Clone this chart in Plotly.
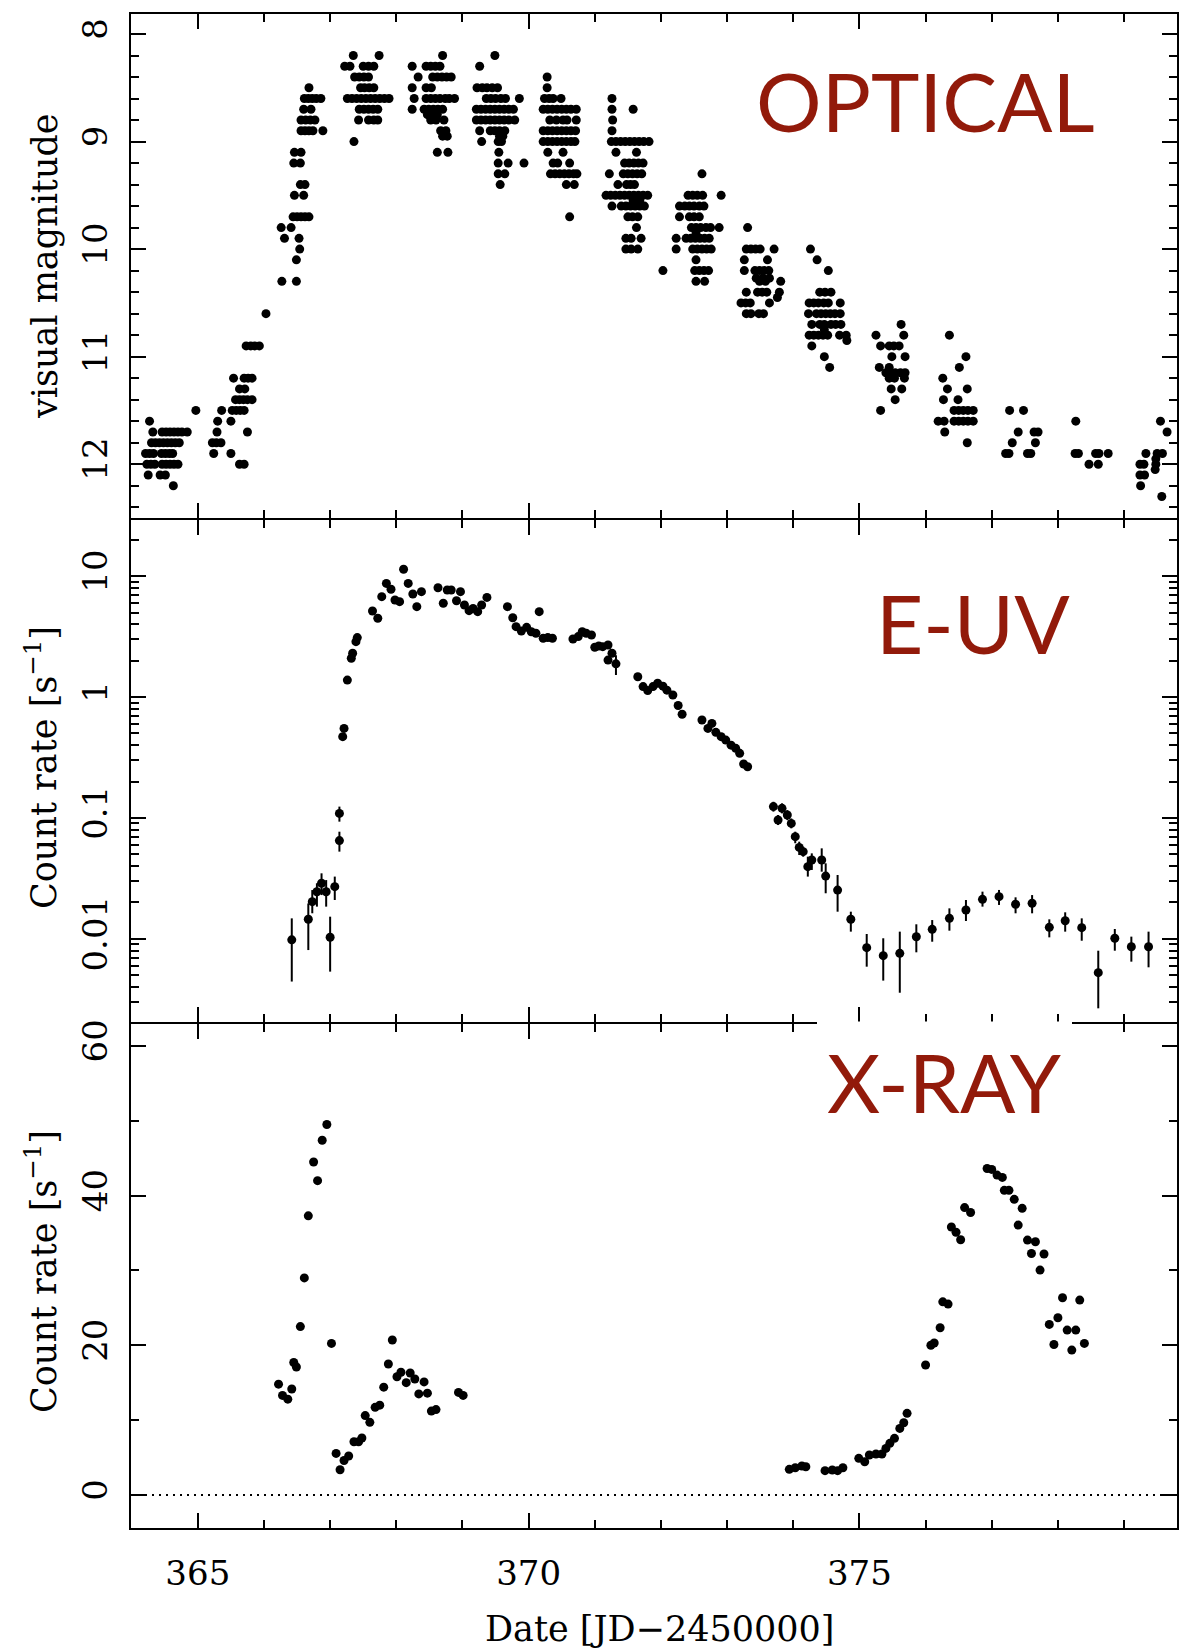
import plotly.graph_objects as go

# ---------------- OPTICAL: visual magnitude estimates ----------------
opt_day = [
    364.97,
    364.27,
    364.32, 364.46, 364.52, 364.58, 364.64, 364.70, 364.76, 364.84,
    364.30, 364.36, 364.42, 364.48, 364.54, 364.60, 364.66, 364.72,
    364.21, 364.27, 364.33, 364.45, 364.51, 364.57, 364.62,
    364.23, 364.29, 364.35, 364.46, 364.52, 364.58, 364.64, 364.70,
    364.25, 364.43, 364.51,
    364.63,
    366.03,
    365.73, 365.80, 365.86, 365.93,
    365.54, 365.70, 365.76, 365.82,
    365.63, 365.71,
    365.57, 365.63, 365.69, 365.75, 365.82,
    365.36, 365.52, 365.58, 365.64, 365.70,
    365.30, 365.50,
    365.29, 365.75,
    365.22, 365.28, 365.35,
    365.24, 365.50,
    365.63, 365.70,
    366.27, 366.49,
    366.49,
    366.54,
    366.31, 366.53,
    366.26, 366.41,
    366.44, 366.50, 366.56, 366.62, 366.68,
    366.46, 366.60,
    366.55, 366.62,
    366.45, 366.55,
    366.46, 366.56,
    366.56, 366.62, 366.68, 366.74, 366.89,
    366.56, 366.63, 366.70, 366.77,
    366.60, 366.71,
    366.61, 366.67, 366.73, 366.79, 366.86,
    366.68,
    367.35, 367.74,
    367.22, 367.30, 367.50, 367.58, 367.66,
    367.37, 367.44, 367.51, 367.58,
    367.46, 367.52, 367.59, 367.66,
    367.26, 367.33, 367.40, 367.47, 367.54, 367.61, 367.68, 367.75, 367.82, 367.89,
    367.44, 367.51, 367.58, 367.65, 367.72,
    367.43, 367.58, 367.66, 367.72,
    367.36,
    368.70,
    368.24, 368.45, 368.52, 368.59, 368.66,
    368.33, 368.55, 368.62, 368.69, 368.76, 368.83,
    368.24, 368.45, 368.53,
    368.27, 368.45, 368.52, 368.59, 368.66, 368.74, 368.80, 368.88,
    368.24, 368.42, 368.49, 368.56, 368.63, 368.70,
    368.47, 368.55, 368.62,
    368.52, 368.60, 368.72,
    368.67, 368.75,
    368.70, 368.77,
    368.62, 368.78,
    369.49,
    369.26,
    369.22, 369.30, 369.37, 369.45, 369.53,
    369.36, 369.43, 369.50, 369.58, 369.65, 369.86,
    369.21, 369.28, 369.35, 369.42, 369.49, 369.56, 369.63, 369.70, 369.77,
    369.21, 369.28, 369.35, 369.42, 369.49, 369.56, 369.63, 369.70, 369.79,
    369.26, 369.42, 369.49, 369.56, 369.64,
    369.56, 369.61,
    369.29, 369.54, 369.59,
    369.55,
    369.54, 369.69, 369.93,
    369.54, 369.64,
    369.57,
    370.28,
    370.28,
    370.24, 370.31, 370.37, 370.49,
    370.22, 370.29, 370.36, 370.43, 370.50, 370.57, 370.64, 370.72,
    370.32, 370.42, 370.52, 370.58, 370.72,
    370.22, 370.29, 370.36, 370.43, 370.50, 370.57, 370.64, 370.71,
    370.22, 370.29, 370.36, 370.43, 370.50, 370.57, 370.64, 370.70,
    370.29, 370.52,
    370.37, 370.44, 370.62,
    370.33, 370.40, 370.47, 370.54, 370.61, 370.68, 370.73,
    370.57, 370.69,
    370.62,
    371.26,
    371.26, 371.58,
    371.27,
    371.26,
    371.25, 371.32, 371.39, 371.46, 371.53, 371.60, 371.67, 371.74, 371.82,
    371.32, 371.63,
    371.45, 371.52, 371.59, 371.66, 371.73,
    371.22, 371.43, 371.50, 371.57, 371.64, 371.71,
    371.35, 371.48, 371.54, 371.60,
    371.17, 371.24, 371.31, 371.38, 371.45, 371.52, 371.59, 371.66, 371.73, 371.80,
    371.58, 371.68,
    371.26, 371.40, 371.47, 371.54, 371.61, 371.68, 371.75,
    371.50, 371.57, 371.65,
    371.63,
    371.47, 371.55, 371.70,
    371.47, 371.55, 371.65,
    372.62,
    372.41, 372.48, 372.55, 372.63, 372.91,
    372.28, 372.36, 372.43, 372.50, 372.58, 372.65,
    372.28, 372.43, 372.50, 372.58,
    372.46, 372.53, 372.60, 372.68, 372.75, 372.88,
    372.53,
    372.23, 372.38, 372.45, 372.52, 372.59, 372.66, 372.73,
    372.23, 372.48, 372.55, 372.62, 372.69, 372.76,
    372.53,
    372.03, 372.51, 372.58, 372.65, 372.72,
    372.53, 372.66,
    373.31,
    373.29, 373.36, 373.43, 373.50, 373.71,
    373.26, 373.61,
    373.26, 373.42, 373.49, 373.56, 373.63,
    373.44, 373.54, 373.64,
    373.49, 373.58, 373.81,
    373.29, 373.46, 373.53, 373.60, 373.79,
    373.76,
    373.21, 373.28, 373.35, 373.64,
    373.29, 373.36, 373.48, 373.55,
    374.26,
    374.36,
    374.53,
    374.40, 374.48, 374.57,
    374.24, 374.31, 374.38, 374.46, 374.53, 374.71,
    374.23, 374.35, 374.42, 374.49, 374.56, 374.63, 374.71,
    374.28, 374.40, 374.47, 374.57, 374.64, 374.72,
    374.47,
    374.24, 374.31, 374.38, 374.45, 374.52, 374.70, 374.80,
    374.81,
    374.28,
    374.47,
    374.55,
    375.63,
    375.25, 375.67,
    375.32, 375.45, 375.52, 375.60,
    375.49, 375.69,
    375.30, 375.45,
    375.40, 375.47, 375.54, 375.62, 375.69,
    375.45, 375.53, 375.68,
    375.48, 375.64,
    375.54,
    375.32,
    376.36,
    376.61,
    376.51,
    376.26,
    376.33, 376.63,
    376.27, 376.49,
    376.43, 376.50, 376.57, 376.64, 376.72,
    376.19, 376.28, 376.43, 376.50, 376.57, 376.64, 376.72,
    376.29,
    376.63,
    377.27, 377.48,
    377.40, 377.64, 377.70,
    377.31, 377.66,
    377.21, 377.26, 377.54, 377.59,
    378.27,
    378.26, 378.31, 378.57, 378.62, 378.76,
    378.47, 378.61,
    379.55,
    379.65,
    379.33, 379.50, 379.58,
    379.48,
    379.24, 379.30, 379.48,
    379.47,
    379.24, 379.31,
    379.25,
    379.57,
]
opt_mag = [
    11.5,
    11.6,
    11.7, 11.7, 11.7, 11.7, 11.7, 11.7, 11.7, 11.7,
    11.8, 11.8, 11.8, 11.8, 11.8, 11.8, 11.8, 11.8,
    11.9, 11.9, 11.9, 11.9, 11.9, 11.9, 11.9,
    12.0, 12.0, 12.0, 12.0, 12.0, 12.0, 12.0, 12.0,
    12.1, 12.1, 12.1,
    12.2,
    10.6,
    10.9, 10.9, 10.9, 10.9,
    11.2, 11.2, 11.2, 11.2,
    11.3, 11.3,
    11.4, 11.4, 11.4, 11.4, 11.4,
    11.5, 11.5, 11.5, 11.5, 11.5,
    11.6, 11.6,
    11.7, 11.7,
    11.8, 11.8, 11.8,
    11.9, 11.9,
    12.0, 12.0,
    10.3, 10.3,
    10.1,
    10.0,
    9.9, 9.9,
    9.8, 9.8,
    9.7, 9.7, 9.7, 9.7, 9.7,
    9.5, 9.5,
    9.4, 9.4,
    9.2, 9.2,
    9.1, 9.1,
    8.9, 8.9, 8.9, 8.9, 8.9,
    8.8, 8.8, 8.8, 8.8,
    8.7, 8.7,
    8.6, 8.6, 8.6, 8.6, 8.6,
    8.5,
    8.2, 8.2,
    8.3, 8.3, 8.3, 8.3, 8.3,
    8.4, 8.4, 8.4, 8.4,
    8.5, 8.5, 8.5, 8.5,
    8.6, 8.6, 8.6, 8.6, 8.6, 8.6, 8.6, 8.6, 8.6, 8.6,
    8.7, 8.7, 8.7, 8.7, 8.7,
    8.8, 8.8, 8.8, 8.8,
    9.0,
    8.2,
    8.3, 8.3, 8.3, 8.3, 8.3,
    8.4, 8.4, 8.4, 8.4, 8.4, 8.4,
    8.5, 8.5, 8.5,
    8.6, 8.6, 8.6, 8.6, 8.6, 8.6, 8.6, 8.6,
    8.7, 8.7, 8.7, 8.7, 8.7, 8.7,
    8.75, 8.75, 8.75,
    8.8, 8.8, 8.8,
    8.9, 8.9,
    8.95, 8.95,
    9.1, 9.1,
    8.2,
    8.3,
    8.5, 8.5, 8.5, 8.5, 8.5,
    8.6, 8.6, 8.6, 8.6, 8.6, 8.6,
    8.7, 8.7, 8.7, 8.7, 8.7, 8.7, 8.7, 8.7, 8.7,
    8.8, 8.8, 8.8, 8.8, 8.8, 8.8, 8.8, 8.8, 8.8,
    8.9, 8.9, 8.9, 8.9, 8.9,
    8.95, 8.95,
    9.0, 9.0, 9.0,
    9.1,
    9.2, 9.2, 9.2,
    9.3, 9.3,
    9.4,
    8.4,
    8.5,
    8.6, 8.6, 8.6, 8.6,
    8.7, 8.7, 8.7, 8.7, 8.7, 8.7, 8.7, 8.7,
    8.8, 8.8, 8.8, 8.8, 8.8,
    8.9, 8.9, 8.9, 8.9, 8.9, 8.9, 8.9, 8.9,
    9.0, 9.0, 9.0, 9.0, 9.0, 9.0, 9.0, 9.0,
    9.1, 9.1,
    9.2, 9.2, 9.2,
    9.3, 9.3, 9.3, 9.3, 9.3, 9.3, 9.3,
    9.4, 9.4,
    9.7,
    8.6,
    8.7, 8.7,
    8.8,
    8.9,
    9.0, 9.0, 9.0, 9.0, 9.0, 9.0, 9.0, 9.0, 9.0,
    9.1, 9.1,
    9.2, 9.2, 9.2, 9.2, 9.2,
    9.3, 9.3, 9.3, 9.3, 9.3, 9.3,
    9.4, 9.4, 9.4, 9.4,
    9.5, 9.5, 9.5, 9.5, 9.5, 9.5, 9.5, 9.5, 9.5, 9.5,
    9.55, 9.55,
    9.6, 9.6, 9.6, 9.6, 9.6, 9.6, 9.6,
    9.7, 9.7, 9.7,
    9.8,
    9.9, 9.9, 9.9,
    10.0, 10.0, 10.0,
    9.3,
    9.5, 9.5, 9.5, 9.5, 9.5,
    9.6, 9.6, 9.6, 9.6, 9.6, 9.6,
    9.7, 9.7, 9.7, 9.7,
    9.8, 9.8, 9.8, 9.8, 9.8, 9.8,
    9.85,
    9.9, 9.9, 9.9, 9.9, 9.9, 9.9, 9.9,
    10.0, 10.0, 10.0, 10.0, 10.0, 10.0,
    10.1,
    10.2, 10.2, 10.2, 10.2, 10.2,
    10.3, 10.3,
    9.8,
    10.0, 10.0, 10.0, 10.0, 10.0,
    10.1, 10.1,
    10.2, 10.2, 10.2, 10.2, 10.2,
    10.27, 10.27, 10.27,
    10.3, 10.3, 10.3,
    10.4, 10.4, 10.4, 10.4, 10.4,
    10.45,
    10.5, 10.5, 10.5, 10.5,
    10.6, 10.6, 10.6, 10.6,
    10.0,
    10.1,
    10.2,
    10.4, 10.4, 10.4,
    10.5, 10.5, 10.5, 10.5, 10.5, 10.5,
    10.6, 10.6, 10.6, 10.6, 10.6, 10.6, 10.6,
    10.7, 10.7, 10.7, 10.7, 10.7, 10.7,
    10.75,
    10.8, 10.8, 10.8, 10.8, 10.8, 10.8, 10.8,
    10.85,
    10.9,
    11.0,
    11.1,
    10.7,
    10.8, 10.8,
    10.9, 10.9, 10.9, 10.9,
    11.0, 11.0,
    11.1, 11.1,
    11.15, 11.15, 11.15, 11.15, 11.15,
    11.2, 11.2, 11.2,
    11.3, 11.3,
    11.4,
    11.5,
    10.8,
    11.0,
    11.1,
    11.2,
    11.3, 11.3,
    11.4, 11.4,
    11.5, 11.5, 11.5, 11.5, 11.5,
    11.6, 11.6, 11.6, 11.6, 11.6, 11.6, 11.6,
    11.7,
    11.8,
    11.5, 11.5,
    11.7, 11.7, 11.7,
    11.8, 11.8,
    11.9, 11.9, 11.9, 11.9,
    11.6,
    11.9, 11.9, 11.9, 11.9, 11.9,
    12.0, 12.0,
    11.6,
    11.7,
    11.9, 11.9, 11.9,
    11.95,
    12.0, 12.0, 12.0,
    12.05,
    12.1, 12.1,
    12.2,
    12.3,
]

# ---------------- E-UV count rate (points without visible error bars) ----------------
euv_day = [
    367.19, 367.21, 367.26, 367.32, 367.34, 367.39, 367.41, 367.64, 367.72, 367.78,
    367.85, 367.92, 367.98, 368.05, 368.11, 368.18, 368.25, 368.31, 368.38, 368.63,
    368.71, 368.77, 368.83, 368.91, 368.97, 369.03, 369.10, 369.16, 369.23, 369.29,
    369.37, 369.68, 369.76, 369.81, 369.89, 369.97, 370.04, 370.11, 370.16, 370.22,
    370.29, 370.36, 370.67, 370.75, 370.81, 370.87, 370.95, 371.00, 371.06, 371.12,
    371.20, 371.26, 371.20, 371.65, 371.73, 371.80, 371.88, 371.95, 372.03,
    372.09, 372.18, 372.26, 372.32, 372.62, 372.71, 372.77, 372.83, 372.91, 372.98,
    373.06, 373.13, 373.19, 373.25, 373.31,
]
euv_rate = [
    0.47, 0.55, 1.38, 2.09, 2.30, 2.87, 3.10, 5.15, 4.48, 6.76,
    8.71, 7.78, 6.34, 6.15, 11.4, 8.71, 7.11, 5.59, 7.44, 8.01,
    5.96, 7.67, 7.67, 6.26, 7.44, 5.77, 5.18, 5.41, 5.08, 5.77,
    6.67, 5.59, 4.53, 3.82, 3.52, 3.77, 3.47, 3.37, 5.08, 3.06,
    3.10, 3.06, 3.02, 3.16, 3.47, 3.37, 3.26, 2.58, 2.64, 2.61,
    2.69, 2.30, 2.02, 1.47, 1.22, 1.13, 1.22, 1.30, 1.23,
    1.14, 1.04, 0.85, 0.72, 0.645, 0.55, 0.605, 0.51, 0.47, 0.44,
    0.40, 0.376, 0.342, 0.279, 0.265,
]

# ---------------- E-UV count rate (points with error bars; bar ends hi/lo) ----------------
euvb_day = [
    366.42, 366.67, 366.73, 366.80, 366.87, 366.94, 367.00, 367.07, 367.14, 367.14,
    371.32,
    373.70, 373.77, 373.83, 373.91, 373.97, 374.03, 374.09, 374.15, 374.22, 374.28,
    374.43, 374.49, 374.67, 374.87, 375.11, 375.36, 375.61, 375.86, 376.10, 376.36,
    376.61, 376.86, 377.11, 377.36, 377.61, 377.87, 378.11, 378.36, 378.61, 378.86,
    379.11, 379.37,
]
euvb_rate = [
    0.0098, 0.0145, 0.0203, 0.0245, 0.0288, 0.0245, 0.0103, 0.0270, 0.0649, 0.109,
    1.88,
    0.124, 0.0961, 0.12, 0.1057, 0.090, 0.070, 0.057, 0.0526, 0.0395, 0.0449,
    0.0449, 0.033, 0.0253, 0.0145, 0.00845, 0.00725, 0.00758, 0.0104, 0.01197, 0.01476,
    0.0173, 0.0212, 0.0223, 0.0193, 0.0197, 0.01244, 0.0141, 0.01236, 0.00525, 0.0101,
    0.0086, 0.0086,
]
euvb_hi = [
    0.01476, 0.0196, 0.0253, 0.0288, 0.0348, 0.0306, 0.01524, 0.0327, 0.0769, 0.124,
    2.22,
    0.136, 0.1057, 0.132, 0.116, 0.099, 0.0769, 0.0636, 0.0578, 0.0478, 0.0509,
    0.0560, 0.0421, 0.0337, 0.01676, 0.01096, 0.0101, 0.01146, 0.01318, 0.01429, 0.01786,
    0.02094, 0.02455, 0.02535, 0.02203, 0.0230, 0.01449, 0.01656, 0.01476, 0.00797, 0.01205,
    0.01042, 0.01146,
]
euvb_lo = [
    0.00443, 0.00807, 0.01626, 0.01845, 0.0230, 0.01845, 0.00535, 0.02094, 0.0526, 0.0931,
    1.52,
    0.1127, 0.0873, 0.109, 0.096, 0.082, 0.0617, 0.0493, 0.0478, 0.0327, 0.0371,
    0.0359, 0.0238, 0.01676, 0.01146, 0.00588, 0.00451, 0.00358, 0.00773, 0.00946, 0.01167,
    0.01403, 0.01845, 0.01905, 0.01625, 0.01625, 0.01028, 0.01146, 0.00964, 0.00266, 0.00797,
    0.00647, 0.00581,
]

# ---------------- X-RAY count rate ----------------
xr_day = [
    366.22, 366.28, 366.36, 366.42, 366.45, 366.49, 366.55, 366.61, 366.67, 366.75,
    366.81, 366.88, 366.95, 367.02, 367.09, 367.15, 367.21, 367.28, 367.36, 367.43,
    367.48, 367.53, 367.60, 367.68, 367.75, 367.81, 367.88, 367.94, 368.01, 368.07,
    368.15, 368.21, 368.28, 368.34, 368.42, 368.47, 368.53, 368.60, 368.94, 369.01,
    373.94, 374.03, 374.13, 374.19, 374.48, 374.59, 374.67, 374.75, 374.99, 375.08,
    375.15, 375.25, 375.34, 375.40, 375.46, 375.53, 375.61, 375.67, 375.72, 376.00,
    376.08, 376.13, 376.22, 376.26, 376.34, 376.39, 376.46, 376.53, 376.59, 376.68,
    376.93, 377.00, 377.08, 377.16, 377.19, 377.26, 377.34, 377.46, 377.40, 377.54,
    377.66, 377.60, 377.79, 377.73, 377.87, 378.00, 378.07, 377.94, 378.14, 378.27,
    378.33, 378.21, 378.40,
]
xr_rate = [
    14.8, 13.3, 12.8, 14.15, 17.7, 17.1, 22.5, 29.0, 37.3, 44.5,
    42.0, 47.4, 49.5, 20.25, 5.55, 3.37, 4.6, 5.2, 7.1, 7.1,
    7.6, 10.6, 9.7, 11.7, 12.0, 14.4, 17.5, 20.7, 15.8, 16.4,
    15.0, 16.3, 15.5, 13.5, 15.1, 13.6, 11.2, 11.4, 13.7, 13.3,
    3.42, 3.64, 3.86, 3.77, 3.24, 3.33, 3.24, 3.64, 4.89, 4.44,
    5.33, 5.47, 5.47, 6.22, 6.89, 7.56, 8.89, 9.65, 10.9, 17.36,
    20.0, 20.3, 22.34, 25.8, 25.5, 35.8, 35.1, 34.1, 38.4, 37.75,
    43.63, 43.5, 42.74, 42.43, 40.7, 40.7, 39.5, 38.3, 36.06, 34.06,
    33.83, 32.27, 32.2, 30.05, 22.79, 23.68, 26.35, 20.1, 22.03, 22.03,
    26.04, 19.36, 20.25,
]

panel_labels = ["OPTICAL", "E-UV", "X-RAY"]
x_title = "Date [JD\u22122450000]"
y_titles = ["visual magnitude", "Count rate [s<sup>\u22121</sup>]", "Count rate [s<sup>\u22121</sup>]"]
euv_tickvals = [0.01, 0.1, 1, 10]
euv_ticktext = ["0.01", "0.1", "1", "10"]

assert len(opt_day) == len(opt_mag)
assert len(euv_day) == len(euv_rate)
assert len(euvb_day) == len(euvb_rate) == len(euvb_hi) == len(euvb_lo)
assert len(xr_day) == len(xr_rate)

# ---------------- layout geometry ----------------
W, H = 1181, 1649
ML, MR, MT, MB = 131, 4, 14, 121
PW = W - ML - MR
PH = H - MT - MB


def px_x(p):
    return (p - ML) / PW


def px_y(p):
    return (MT + PH - p) / PH


FONT = "DejaVu Serif"
RED = "#921A0A"
TICKSIZE = 34

fig = go.Figure()
mk = dict(size=9, color="black", line=dict(width=0))

fig.add_trace(go.Scatter(x=opt_day, y=opt_mag, mode="markers", marker=mk,
                         xaxis="x", yaxis="y", hoverinfo="skip"))
fig.add_trace(go.Scatter(x=euv_day, y=euv_rate, mode="markers", marker=mk,
                         xaxis="x2", yaxis="y2", hoverinfo="skip"))
err_up = [h - r for h, r in zip(euvb_hi, euvb_rate)]
err_dn = [r - l for l, r in zip(euvb_lo, euvb_rate)]
fig.add_trace(go.Scatter(x=euvb_day, y=euvb_rate, mode="markers", marker=mk,
                         error_y=dict(type="data", symmetric=False, array=err_up,
                                      arrayminus=err_dn, color="black",
                                      thickness=2, width=0),
                         xaxis="x2", yaxis="y2", hoverinfo="skip"))
fig.add_trace(go.Scatter(x=xr_day, y=xr_rate, mode="markers", marker=mk,
                         xaxis="x3", yaxis="y3", hoverinfo="skip"))


def axis_style(minor_extra, **kw):
    minor = dict(ticks="inside", ticklen=8, tickwidth=2, tickcolor="black", showgrid=False)
    minor.update(minor_extra)
    d = dict(showline=True, linecolor="black", linewidth=2, mirror="allticks",
             ticks="inside", ticklen=15, tickwidth=2, tickcolor="black",
             showgrid=False, zeroline=False, automargin=False,
             tickfont=dict(family=FONT, size=TICKSIZE, color="black"),
             minor=minor)
    d.update(kw)
    return d


X_RANGE = [363.99, 379.80]
xminor = dict(tickmode="linear", tick0=0, dtick=1)
third = 1.0 / 3.0
gap = 1.0 / PH  # half of the 2px line width, so adjacent frame lines coincide

log_minor = []
for dec in [0.001, 0.01, 0.1, 1, 10]:
    for k in range(2, 10):
        log_minor.append(k * dec)

layout_axes = dict(
    xaxis=axis_style(xminor, domain=[0, 1], anchor="y", range=X_RANGE,
                     tickmode="linear", tick0=0, dtick=5, showticklabels=False),
    xaxis2=axis_style(xminor, domain=[0, 1], anchor="y2", range=X_RANGE,
                      tickmode="linear", tick0=0, dtick=5, showticklabels=False),
    xaxis3=axis_style(xminor, domain=[0, 1], anchor="y3", range=X_RANGE,
                      tickmode="linear", tick0=0, dtick=5, showticklabels=True,
                      ticklabelstandoff=14),
    yaxis=axis_style(dict(tickmode="linear", tick0=0, dtick=0.2),
                     domain=[2 * third + gap, 1], anchor="x", range=[12.497, 7.814],
                     tickmode="linear", tick0=0, dtick=1, tickangle=-90,
                     ticklabelstandoff=8),
    yaxis2=axis_style(dict(tickmode="array", tickvals=log_minor),
                      domain=[third + gap, 2 * third - gap], anchor="x2", type="log",
                      range=[-2.691, 1.467], tickmode="array",
                      tickvals=euv_tickvals, ticktext=euv_ticktext, tickangle=-90,
                      ticklabelstandoff=8),
    yaxis3=axis_style(dict(tickmode="linear", tick0=0, dtick=10),
                      domain=[0, third - gap], anchor="x3", range=[-4.42, 62.89],
                      tickmode="linear", tick0=0, dtick=20, tickangle=-90,
                      ticklabelstandoff=8),
)

annotations = []
panel_centers = [266, 768, 1272]
title_x = [45, 41, 41]
for t, yc, xc in zip(y_titles, panel_centers, title_x):
    annotations.append(dict(text=t, x=px_x(xc), y=px_y(yc), xref="paper", yref="paper",
                            xanchor="center", yanchor="middle", textangle=-90,
                            showarrow=False, font=dict(family=FONT, size=35, color="black")))
annotations.append(dict(text=x_title, x=px_x(659), y=px_y(1629), xref="paper", yref="paper",
                        xanchor="center", yanchor="middle", showarrow=False,
                        font=dict(family=FONT, size=35, color="black")))
label_pos = [(925, 100), (973, 622), (944, 1081)]
for lab, (lx, ly) in zip(panel_labels, label_pos):
    annotations.append(dict(text=lab, x=px_x(lx), y=px_y(ly), xref="paper", yref="paper",
                            xanchor="center", yanchor="middle", showarrow=False,
                            font=dict(family="Lato", size=82, color=RED)))

shapes = [
    # dotted zero line in the X-ray panel
    dict(type="line", xref="paper", x0=0, x1=1, yref="y3", y0=0, y1=0,
         line=dict(color="black", width=2, dash="2px,5px"), layer="below"),
    # white patch over part of the panel boundary (as in the original figure)
    dict(type="rect", xref="paper", x0=px_x(817), x1=px_x(1072),
         yref="paper", y0=px_y(1040), y1=px_y(1021.6),
         fillcolor="white", line=dict(width=0), layer="above"),
]

fig.update_layout(
    template="none",
    width=W, height=H,
    margin=dict(l=ML, r=MR, t=MT, b=MB, pad=0),
    paper_bgcolor="white", plot_bgcolor="white",
    showlegend=False,
    font=dict(family=FONT, color="black"),
    annotations=annotations,
    shapes=shapes,
    **layout_axes,
)

fig.write_html("out.html")
